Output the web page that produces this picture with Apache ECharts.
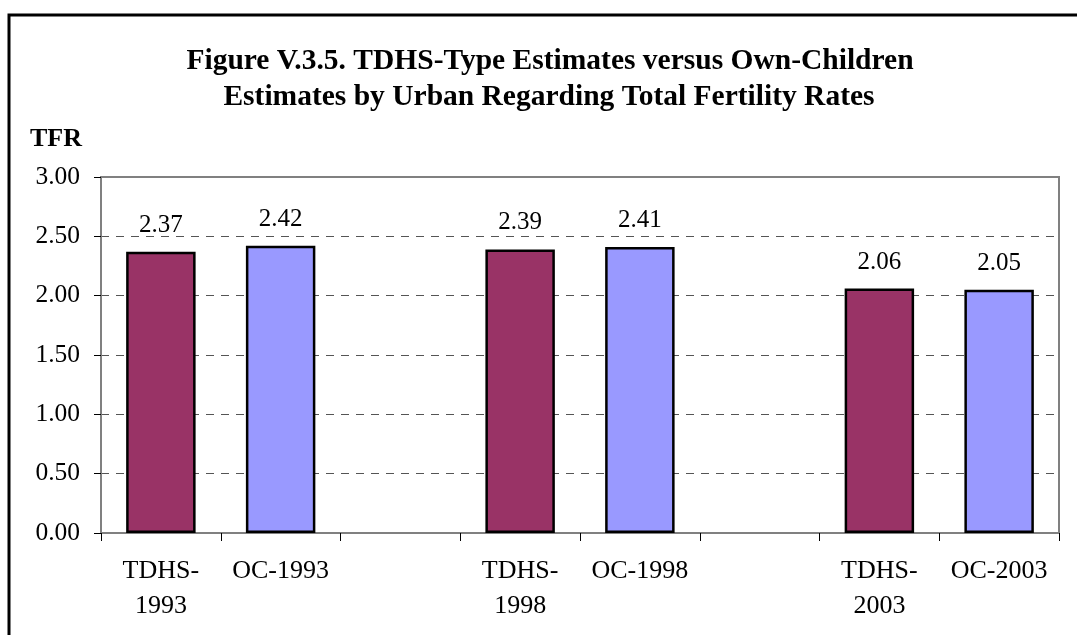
<!DOCTYPE html>
<html><head><meta charset="utf-8">
<script src="https://cdn.jsdelivr.net/npm/echarts@6/dist/echarts.min.js"></script>
<style>html,body{margin:0;padding:0;background:#fff}#c{width:1077px;height:635px}</style>
</head><body><div id="c"></div>
<script>
const categories = ['TDHS-\n1993', 'OC-1993', '', 'TDHS-\n1998', 'OC-1998', ' ', 'TDHS-\n2003', 'OC-2003'];
const tdhsValues = [2.37, '-', '-', 2.39, '-', '-', 2.06, '-'];
const ocValues = ['-', 2.42, '-', '-', 2.41, '-', '-', 2.05];
const titleLines = ['Figure V.3.5. TDHS-Type Estimates versus Own-Children', 'Estimates by Urban Regarding Total Fertility Rates'];
const yName = 'TFR';

const FONT = "'Liberation Serif', 'Times New Roman', serif";
const chart = echarts.init(document.getElementById('c'), null, {renderer: 'canvas'});
const labelCfg = {
  show: true, position: 'top', distance: 14, color: '#000', fontFamily: FONT, fontSize: 25,
  formatter: p => Number(p.value).toFixed(2)
};
chart.setOption({
  animation: false,
  backgroundColor: '#fff',
  graphic: [
    {type: 'rect', shape: {x: 9, y: 15, width: 1200, height: 800}, style: {fill: 'none', stroke: '#000', lineWidth: 3}, z: 100},
    {type: 'text', x: 550, y: 61, style: {text: titleLines[0], font: "bold 29.5px " + FONT, fill: '#000', textAlign: 'center', textVerticalAlign: 'middle'}},
    {type: 'text', x: 549, y: 97, style: {text: titleLines[1], font: "bold 29.5px " + FONT, fill: '#000', textAlign: 'center', textVerticalAlign: 'middle'}},
    {type: 'text', x: 30, y: 139, style: {text: yName, font: "bold 26px " + FONT, fill: '#000', textAlign: 'left', textVerticalAlign: 'middle'}}
  ],
  grid: {left: 101, right: 18, top: 177, bottom: 102, show: true, borderColor: '#808080', borderWidth: 2, backgroundColor: 'transparent'},
  xAxis: {
    type: 'category', data: categories, boundaryGap: true,
    axisLine: {lineStyle: {color: '#808080', width: 2}},
    axisTick: {show: true, interval: 0, length: 8, lineStyle: {color: '#000', width: 1}},
    axisLabel: {interval: 0, color: '#000', fontFamily: FONT, fontSize: 26, lineHeight: 35, margin: 21}
  },
  yAxis: {
    type: 'value', min: 0, max: 3, interval: 0.5,
    axisLine: {show: true, lineStyle: {color: '#808080', width: 2}},
    axisTick: {show: true, length: 7, lineStyle: {color: '#000', width: 1}},
    axisLabel: {color: '#000', fontFamily: FONT, fontSize: 25.5, margin: 21, formatter: v => v.toFixed(2)},
    splitLine: {show: true, showMinLine: false, showMaxLine: false, lineStyle: {color: '#555', width: 1, type: [8, 7]}}
  },
  series: [
    {type: 'bar', name: 'TDHS', data: tdhsValues, barWidth: '58%', barGap: '-100%',
     itemStyle: {color: '#993366', borderColor: '#000', borderWidth: 2.5}, label: labelCfg},
    {type: 'bar', name: 'OC', data: ocValues, barWidth: '58%', barGap: '-100%',
     itemStyle: {color: '#9999FF', borderColor: '#000', borderWidth: 2.5}, label: labelCfg}
  ]
});
</script></body></html>
